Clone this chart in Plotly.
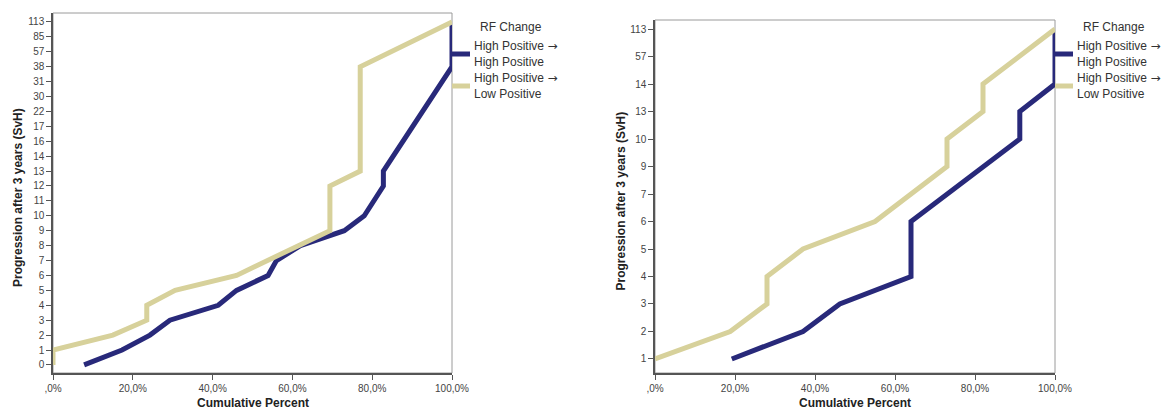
import plotly.graph_objects as go

W, H = 1171, 410

# Category order of the y axes (bottom -> top)
left_cats = ["0", "1", "2", "3", "4", "5", "6", "7", "8", "9", "10", "11", "12", "13", "14",
             "16", "17", "22", "30", "31", "38", "57", "85", "113"]
right_cats = ["1", "2", "3", "4", "5", "6", "7", "9", "10", "13", "14", "57", "113"]

# Left panel series
left_hh_x = [7.8, 17.3, 24.3, 29.3, 41.4, 46.0, 53.9, 56.0, 62.0, 73.0, 78.0, 80.5, 82.8, 82.8, 100.0, 100.0]
left_hh_y = ["0", "1", "2", "3", "4", "5", "6", "7", "8", "9", "10", "11", "12", "13", "38", "113"]
left_hl_x = [0.0, 0.0, 15.0, 23.5, 23.5, 30.6, 46.0, 53.5, 61.5, 69.4, 69.4, 77.0, 77.0, 100.0]
left_hl_y = ["0", "1", "2", "3", "4", "5", "6", "7", "8", "9", "12", "13", "38", "113"]

# Right panel series
right_hh_x = [19.2, 37.0, 46.2, 64.0, 64.0, 91.2, 91.2, 100.0, 100.0]
right_hh_y = ["1", "2", "3", "4", "6", "10", "13", "14", "113"]
right_hl_x = [0.0, 18.8, 28.0, 28.0, 37.0, 55.0, 73.0, 73.0, 82.0, 82.0, 100.0]
right_hl_y = ["1", "2", "3", "4", "5", "6", "9", "10", "13", "14", "113"]

x_tickvals = [0, 20, 40, 60, 80, 100]
x_ticktext = [",0%", "20,0%", "40,0%", "60,0%", "80,0%", "100,0%"]

legend_title = "RF Change"
ARROW = "<span style=\"font-family:'DejaVu Sans'\">\u2192</span>"
legend_names = ["High Positive " + ARROW + "<br>High Positive",
                "High Positive " + ARROW + "<br>Low Positive"]

NAVY = "#28297a"
TAN = "#d7d19b"
AXIS = "#555555"
FRAME = "#9a9a9a"
TXT = "#333333"
FONT = "Liberation Sans, Arial, sans-serif"

def px_x(p):
    return p / W

def px_y(p):
    return 1 - p / H

panels = [
    dict(x0=53, x1=452, y0=13, y1=373, cats=left_cats, rng=[-0.54, len(left_cats) - 1 + 0.6],
         series=[(left_hh_x, left_hh_y, NAVY), (left_hl_x, left_hl_y, TAN)]),
    dict(x0=655, x1=1055, y0=20, y1=373, cats=right_cats, rng=[-0.51, len(right_cats) - 1 + 0.33],
         series=[(right_hh_x, right_hh_y, NAVY), (right_hl_x, right_hl_y, TAN)]),
]

fig = go.Figure()
shapes = []
annotations = []

for i, p in enumerate(panels):
    n = "" if i == 0 else str(i + 1)
    xa, ya = "x" + n, "y" + n
    for sx, sy, col in p["series"]:
        fig.add_trace(go.Scatter(x=sx, y=sy, mode="lines", xaxis=xa, yaxis=ya,
                                 line=dict(color=col, width=5), showlegend=False,
                                 hoverinfo="skip", cliponaxis=False))
    fig.update_layout(**{
        "xaxis" + n: dict(domain=[px_x(p["x0"]), px_x(p["x1"])], range=[0, 100],
                          anchor=ya, tickvals=x_tickvals, ticktext=x_ticktext,
                          ticks="outside", ticklen=5, tickcolor=AXIS, showline=True,
                          linecolor=AXIS, linewidth=1.5, showgrid=False, zeroline=False,
                          automargin=False,
                          tickfont=dict(size=10, color="#444444", family=FONT)),
        "yaxis" + n: dict(domain=[px_y(p["y1"]), px_y(p["y0"])], type="category",
                          categoryorder="array", categoryarray=p["cats"], range=p["rng"],
                          anchor=xa, ticks="outside", ticklen=5, tickcolor=AXIS,
                          showline=True, linecolor=AXIS, linewidth=1.5, showgrid=False,
                          zeroline=False, automargin=False,
                          tickfont=dict(size=10, color="#444444", family=FONT)),
    })
    # frame (top/right border)
    shapes.append(dict(type="rect", xref="paper", yref="paper",
                       x0=px_x(p["x0"]), x1=px_x(p["x1"]), y0=px_y(p["y1"]), y1=px_y(p["y0"]),
                       line=dict(color=FRAME, width=1), layer="below"))
    # axis titles
    annotations.append(dict(text="<b>Cumulative Percent</b>", xref="paper", yref="paper",
                            x=px_x((p["x0"] + p["x1"]) / 2), y=px_y(403), showarrow=False,
                            font=dict(size=12, color="#222222", family=FONT),
                            xanchor="center", yanchor="middle"))
    annotations.append(dict(text="<b>Progression after 3 years (SvH)</b>", xref="paper", yref="paper",
                            x=px_x(p["x0"] - 35), y=px_y((p["y0"] + p["y1"]) / 2 + 5), showarrow=False,
                            textangle=-90, font=dict(size=12, color="#222222", family=FONT),
                            xanchor="center", yanchor="middle"))
    # legend
    lx = p["x1"]
    annotations.append(dict(text=legend_title, xref="paper", yref="paper",
                            x=px_x(lx + 26), y=px_y(27), showarrow=False,
                            font=dict(size=12, color=TXT, family=FONT),
                            xanchor="left", yanchor="middle"))
    for j, (name, col) in enumerate(zip(legend_names, [NAVY, TAN])):
        yc = 54 + j * 32
        shapes.append(dict(type="line", xref="paper", yref="paper",
                           x0=px_x(lx), x1=px_x(lx + 18), y0=px_y(yc), y1=px_y(yc),
                           line=dict(color=col, width=5)))
        annotations.append(dict(text=name, xref="paper", yref="paper",
                                x=px_x(lx + 20), y=px_y(yc), showarrow=False, align="left",
                                font=dict(size=12, color=TXT, family=FONT),
                                xanchor="left", yanchor="middle"))

fig.update_layout(width=W, height=H, margin=dict(l=0, r=0, t=0, b=0),
                  paper_bgcolor="white", plot_bgcolor="white",
                  shapes=shapes, annotations=annotations, showlegend=False,
                  font=dict(family=FONT))

fig.write_html("out.html")
